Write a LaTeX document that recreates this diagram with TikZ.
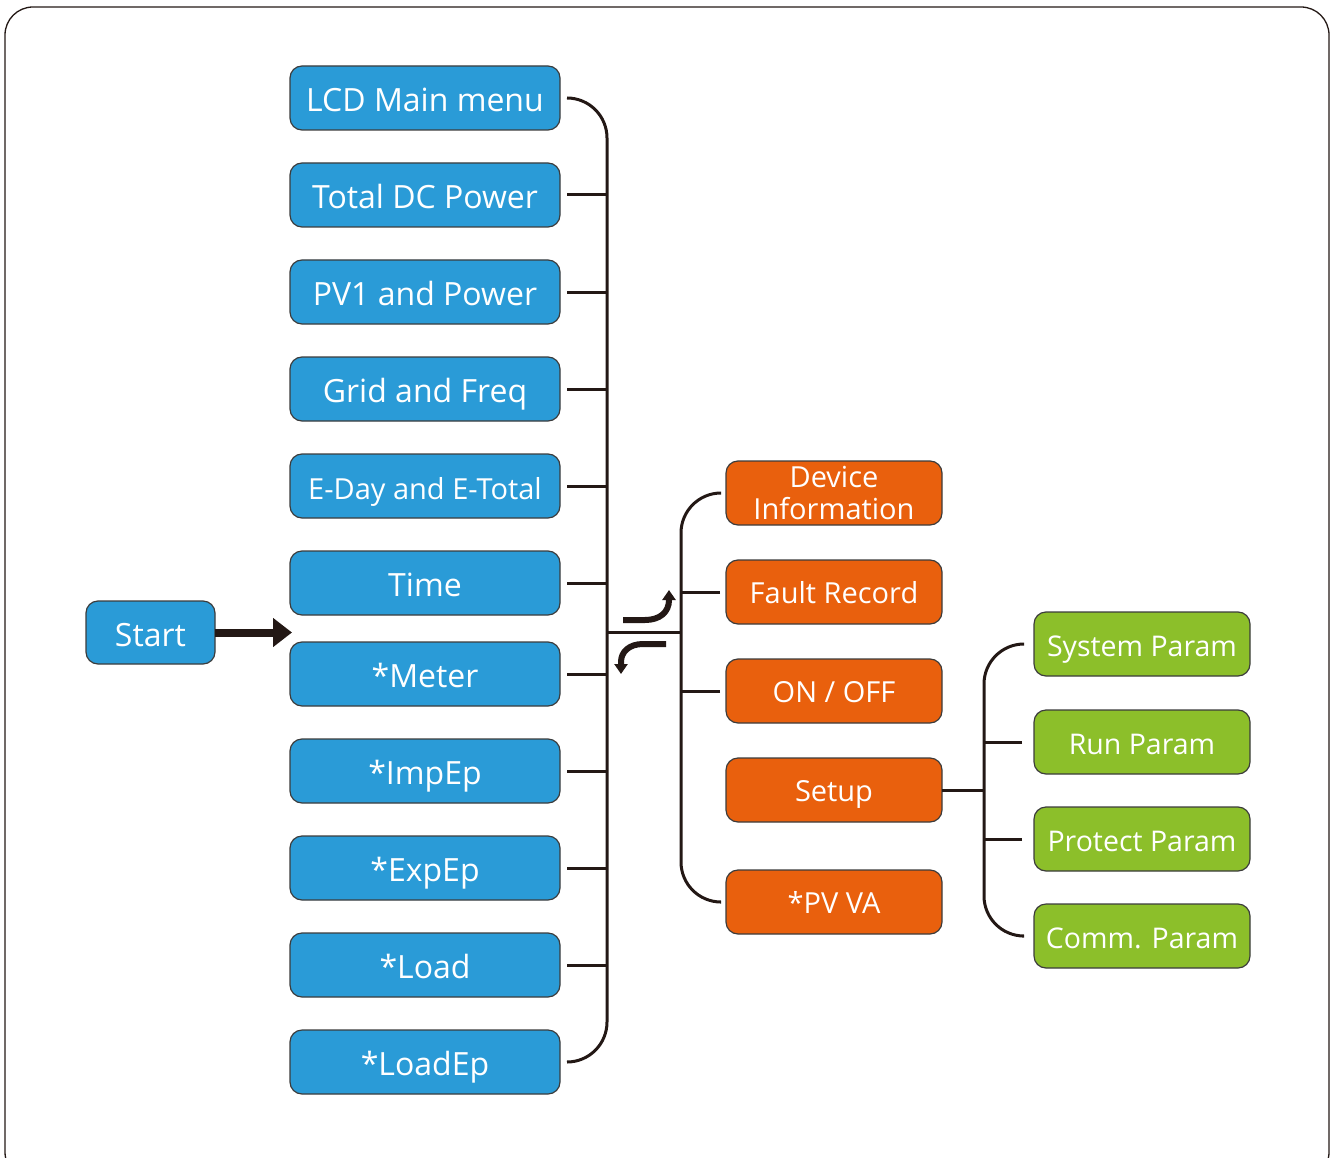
\documentclass[tikz,border=0pt]{standalone}
\usepackage{fontspec}
\setmainfont{Open Sans}
\usetikzlibrary{arrows.meta, positioning}

\definecolor{menublue}{HTML}{2A9BD7}
\definecolor{setorange}{HTML}{E9600D}
\definecolor{paramgreen}{HTML}{8CBF2A}
\definecolor{linkcol}{HTML}{231815}
\definecolor{boxedge}{HTML}{3C3C3C}

\begin{document}
\begin{tikzpicture}[
    x=1pt, y=-1pt,
    box/.style={rectangle, rounded corners=12pt, draw=boxedge, line width=1.2pt,
        text=white, minimum height=64pt, inner sep=0pt, outer sep=0pt, align=center},
    mainbox/.style={box, fill=menublue, minimum width=270pt, text height=29pt, text depth=2pt,
        font=\fontsize{32}{36}\selectfont},
    setbox/.style={box, fill=setorange, minimum width=216pt, text height=25pt, text depth=2pt,
        font=\fontsize{29}{32}\selectfont},
    parambox/.style={box, fill=paramgreen, minimum width=216pt, text height=27pt, text depth=2pt,
        font=\fontsize{28.5}{32}\selectfont},
    link/.style={draw=linkcol, line width=3pt},
    bracket/.style={link, rounded corners=40pt},
    turn/.style={draw=linkcol, line width=6pt, -{Triangle[length=10pt, width=13pt]}}]

    \useasboundingbox (0,0) rectangle (1335,1158);
    \draw[draw=linkcol, line width=1.3pt, rounded corners=28pt] (5,7) rectangle (1329,1180);

    % Define menu boxes
    \node[mainbox] (lcd) at (425,98) {LCD Main menu};
    \node[mainbox] (totaldc) [below=33pt of lcd] {Total DC Power};
    \node[mainbox] (pv1) [below=33pt of totaldc] {PV1 and Power};
    \node[mainbox] (grid) [below=33pt of pv1] {Grid and Freq};
    \node[mainbox, font=\fontsize{29}{32}\selectfont] (eday) [below=33pt of grid] {E-Day and E-Total};
    \node[mainbox] (time) [below=33pt of eday] {Time};
    \node[mainbox] (meter) [below=27pt of time] {*Meter};
    \node[mainbox] (impep) [below=33pt of meter] {*ImpEp};
    \node[mainbox] (expep) [below=33pt of impep] {*ExpEp};
    \node[mainbox] (load) [below=33pt of expep] {*Load};
    \node[mainbox] (loadep) [below=33pt of load] {*LoadEp};

    \node[mainbox, minimum width=129pt, minimum height=63pt] (start) at (150.5,632.5) {Start};

    % Define setting boxes
    \node[setbox, text height=, text depth=] (devinfo) at (834,493) {Device\\Information};
    \node[setbox] (fault) [below=35pt of devinfo] {Fault Record};
    \node[setbox] (onoff) [below=35pt of fault] {ON / OFF};
    \node[setbox] (setup) [below=35pt of onoff] {Setup};
    \node[setbox] (pvva) [below=48pt of setup] {*PV VA};

    % Define parameter boxes
    \node[parambox] (sysparam) at (1142,644) {System Param};
    \node[parambox] (runparam) [below=34pt of sysparam] {Run Param};
    \node[parambox] (protparam) [below=33pt of runparam] {Protect Param};
    \node[parambox] (commparam) [below=33pt of protparam] {Comm. Param};

    \coordinate (hub) at (607,632);
    \coordinate (subhub) at (681,632);
    \coordinate (paramhub) at ([xshift=42pt]setup.east);

    % Draw connections
    \draw[draw=linkcol, line width=8pt, -{Triangle[length=19pt, width=28pt]}]
        (start.east) -- ([xshift=2pt]start.east -| time.west);

    \draw[bracket] ([xshift=7pt]lcd.east) -| (hub |- loadep.east) -- ([xshift=7pt]loadep.east);
    \foreach \n in {totaldc, pv1, grid, eday, time, meter, impep, expep, load}
        \draw[link] ([xshift=7pt]\n.east) -- (hub |- \n.east);
    \draw[link] (hub) -- (subhub);

    \draw[bracket] ([xshift=-6pt]devinfo.west) -| (subhub |- pvva.west) -- ([xshift=-6pt]pvva.west);
    \foreach \n in {fault, onoff}
        \draw[link] ([xshift=-6pt]\n.west) -- (subhub |- \n.west);

    \draw[link] (setup.east) -- (paramhub);
    \draw[bracket] ([xshift=-12pt]sysparam.west) -| (paramhub |- commparam.west) -- ([xshift=-12pt]commparam.west);
    \foreach \n in {runparam, protparam}
        \draw[link] ([xshift=-12pt]\n.west) -- (paramhub |- \n.west);

    % Enter / back arrows
    \draw[turn] (623,620) -- (645,620) .. controls (660,620) and (669,612) .. (669,600) -- (669,590);
    \draw[turn] (666,644) -- (643,644) .. controls (629,644) and (621,652) .. (621,662) -- (621,674);

\end{tikzpicture}
\end{document}
